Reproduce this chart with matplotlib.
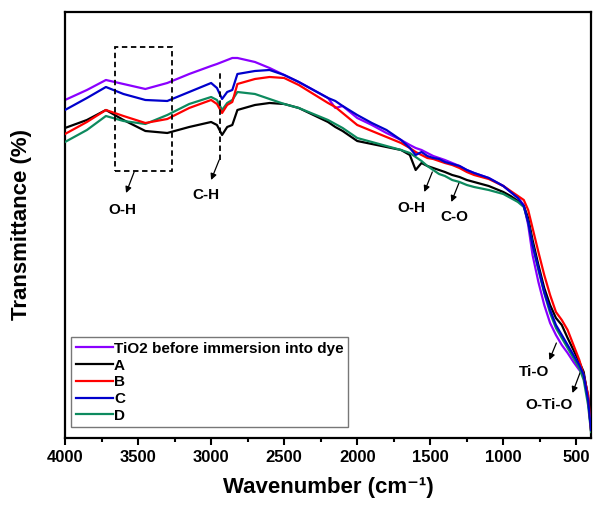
import numpy as np
import matplotlib
matplotlib.use("Agg")
import matplotlib.pyplot as plt
from matplotlib.patches import Rectangle

plt.rcParams['font.family'] = ['Liberation Sans', 'DejaVu Sans']
plt.rcParams['font.weight'] = 'bold'

# wavenumber grid (cm-1) and transmittance (arbitrary units)
wavenumber = [4000, 3850, 3720, 3600, 3450, 3300, 3150, 3000, 2960, 2925, 2890, 2855, 2820,
              2700, 2600, 2500, 2400, 2300, 2200, 2150, 2100, 2000, 1900, 1800, 1700, 1640,
              1600, 1560, 1520, 1480, 1440, 1400, 1350, 1300, 1250, 1200, 1100, 1000, 950,
              900, 860, 830, 800, 760, 720, 680, 640, 600, 560, 520, 480, 450, 420, 400]

tio2 = [338, 348, 358, 354, 349, 355, 364, 372, 374, 376, 378, 380, 380, 376, 370, 363, 356,
        348, 340, 330, 332, 320, 313, 305, 298, 293, 290, 288, 285, 282, 280, 278, 275, 272,
        268, 265, 260, 252, 246, 240, 233, 213, 183, 156, 133, 115, 103, 93, 85, 76, 68, 63,
        43, 13]
sample_a = [310, 318, 328, 318, 307, 305, 311, 316, 313, 303, 311, 313, 328, 333, 335, 334,
            330, 323, 316, 311, 307, 297, 294, 291, 288, 283, 268, 275, 272, 270, 268, 266,
            263, 261, 258, 256, 252, 246, 242, 237, 232, 220, 198, 173, 150, 133, 120, 113,
            100, 88, 76, 66, 40, 8]
sample_b = [304, 316, 328, 322, 315, 319, 330, 338, 334, 325, 333, 336, 354, 359, 361, 360,
            353, 344, 335, 331, 325, 313, 307, 301, 295, 290, 286, 283, 280, 279, 277, 275,
            273, 270, 266, 263, 259, 252, 247, 242, 238, 228, 210, 186, 163, 143, 126, 118,
            108, 93, 78, 63, 43, 8]
sample_c = [328, 340, 351, 344, 338, 337, 346, 355, 350, 339, 346, 348, 364, 367, 368, 363,
            356, 348, 340, 337, 332, 323, 315, 308, 298, 290, 283, 286, 282, 280, 279, 276,
            274, 272, 268, 265, 260, 252, 246, 240, 232, 216, 193, 170, 146, 128, 113, 103,
            93, 83, 73, 63, 38, 8]
sample_d = [296, 308, 322, 317, 314, 323, 334, 341, 338, 328, 335, 338, 346, 344, 339, 334,
            330, 324, 318, 314, 310, 300, 296, 292, 288, 285, 281, 277, 272, 268, 264, 262,
            258, 256, 253, 251, 248, 244, 240, 236, 231, 216, 193, 168, 145, 125, 110, 100,
            90, 80, 70, 58, 33, 6]

labels = ['TiO2 before immersion into dye', 'A', 'B', 'C', 'D']
colors = ['#8a00ff', '#000000', '#ff0000', '#0000cc', '#0d8a5e']

fig = plt.figure(figsize=(5.98, 5.08), dpi=100)
ax = fig.add_axes([0.1087, 0.1378, 0.8796, 0.8386])

series = [tio2, sample_a, sample_b, sample_c, sample_d]
zorders = [2, 3, 4, 5, 3.5]
for s, lab, c, z in zip(series, labels, colors, zorders):
    ax.plot(wavenumber, s, color=c, lw=1.6, label=lab, zorder=z)

ax.set_xlim(4000, 400)
ax.set_ylim(0, 426)
ax.set_xticks([4000, 3500, 3000, 2500, 2000, 1500, 1000, 500])
ax.set_xticks(np.arange(3750, 400, -500), minor=True)
ax.set_yticks([])
ax.tick_params(axis='x', which='major', length=5, width=1.5, labelsize=12, pad=4)
ax.tick_params(axis='x', which='minor', length=3, width=1.5)
for lbl in ax.get_xticklabels():
    lbl.set_fontweight('bold')
for sp in ax.spines.values():
    sp.set_linewidth(1.6)

ax.set_xlabel('Wavenumber (cm\u207b\u00b9)', fontsize=16, fontweight='bold', labelpad=8)
ax.set_ylabel('Transmittance (%)', fontsize=16, fontweight='bold', labelpad=24)

# O-H region box and C-H marker
ax.add_patch(Rectangle((3658, 267), 3267 - 3658, 391 - 267, fill=False, ls=(0, (3, 2)),
                       lw=1.3, ec='black', zorder=6))
ax.plot([2938, 2938], [278, 365], color='black', ls=(0, (3, 2)), lw=1.3, zorder=6)

notes = [
    ('O-H', (3527, 266), (3582, 245), (3610, 228)),
    ('C-H', (2945, 278), (3000, 258), (3034, 243)),
    ('O-H', (1486, 266), (1541, 246), (1630, 230)),
    ('C-O', (1301, 256), (1356, 236), (1336, 221)),
    ('Ti-O', (637, 95), (685, 78), (788, 66)),
    ('O-Ti-O', (473, 66), (527, 45), (685, 33)),
]
for txt, start, end, pos in notes:
    ax.annotate('', xy=end, xytext=start,
                arrowprops=dict(arrowstyle='-|>', color='black', lw=0.9,
                                mutation_scale=9, shrinkA=0, shrinkB=0))
    ax.text(pos[0], pos[1], txt, fontsize=11, fontweight='bold', ha='center', va='center')

leg = ax.legend(loc='lower left', bbox_to_anchor=(0.012, 0.025), fontsize=11,
                frameon=True, fancybox=False, handlelength=2.4, handletextpad=0.1,
                labelspacing=0.18, borderpad=0.3, borderaxespad=0)
leg.get_frame().set_edgecolor('#555555')
leg.get_frame().set_linewidth(1.0)
for t in leg.get_texts():
    t.set_fontweight('bold')

fig.savefig('out.png', dpi=100)
